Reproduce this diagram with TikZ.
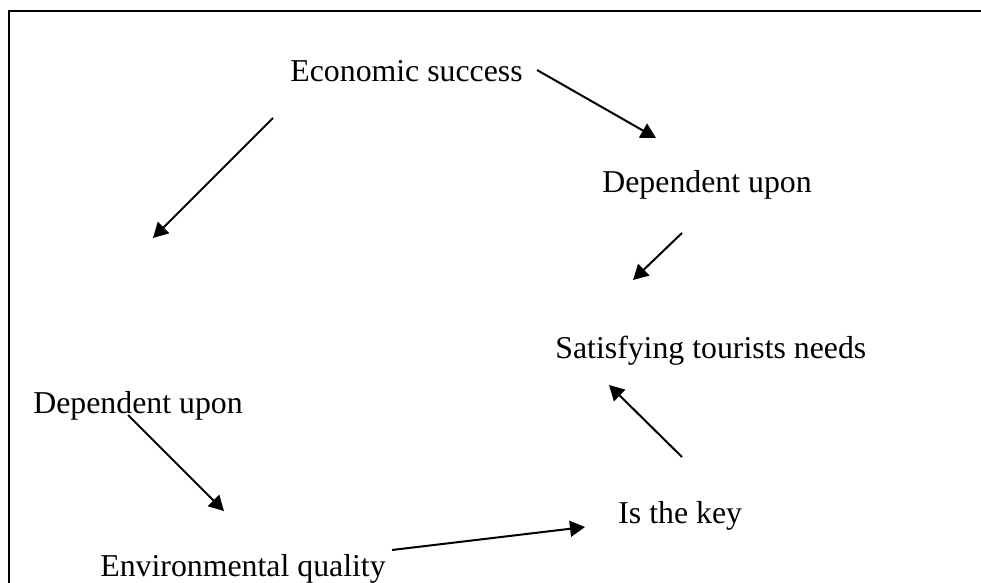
\documentclass[tikz,border=0pt]{standalone}
\usepackage{fontspec}
\setmainfont{Liberation Serif}
\usetikzlibrary{arrows.meta}
\begin{document}
\begin{tikzpicture}[x=0.5pt,y=-0.5pt,
  lbl/.style={anchor=base west,inner sep=0pt,font=\fontsize{15.9}{19}\selectfont},
  conn/.style={line width=1pt,-{Triangle[length=7.5pt,width=8pt]}}]
\clip (0,0) rectangle (981,583);
\fill[white] (0,0) rectangle (981,583);
\draw[line width=1pt] (9,11) rectangle (1010,620);
% labels
\node[lbl] (econ) at (290,82) {Economic success};
\node[lbl] (depR) at (602,192) {Dependent upon};
\node[lbl] (sat)  at (555,358) {Satisfying tourists needs};
\node[lbl] (depL) at (33,413) {Dependent upon};
\node[lbl] (key)  at (618,523) {Is the key};
\node[lbl] (env)  at (100,576) {Environmental quality};
% arrow end points
\coordinate (a1s) at (537,70);  \coordinate (a1e) at (656,138);
\coordinate (a2s) at (273,118); \coordinate (a2e) at (153,238);
\coordinate (a3s) at (682,233); \coordinate (a3e) at (633,280);
\coordinate (a4s) at (682,457); \coordinate (a4e) at (609,385);
\coordinate (a5s) at (128,415); \coordinate (a5e) at (224,511);
\coordinate (a6s) at (392,550); \coordinate (a6e) at (585,527);
\draw[conn] (a1s) -- (a1e);
\draw[conn] (a2s) -- (a2e);
\draw[conn] (a3s) -- (a3e);
\draw[conn] (a4s) -- (a4e);
\draw[conn] (a5s) -- (a5e);
\draw[conn] (a6s) -- (a6e);
\end{tikzpicture}
\end{document}
